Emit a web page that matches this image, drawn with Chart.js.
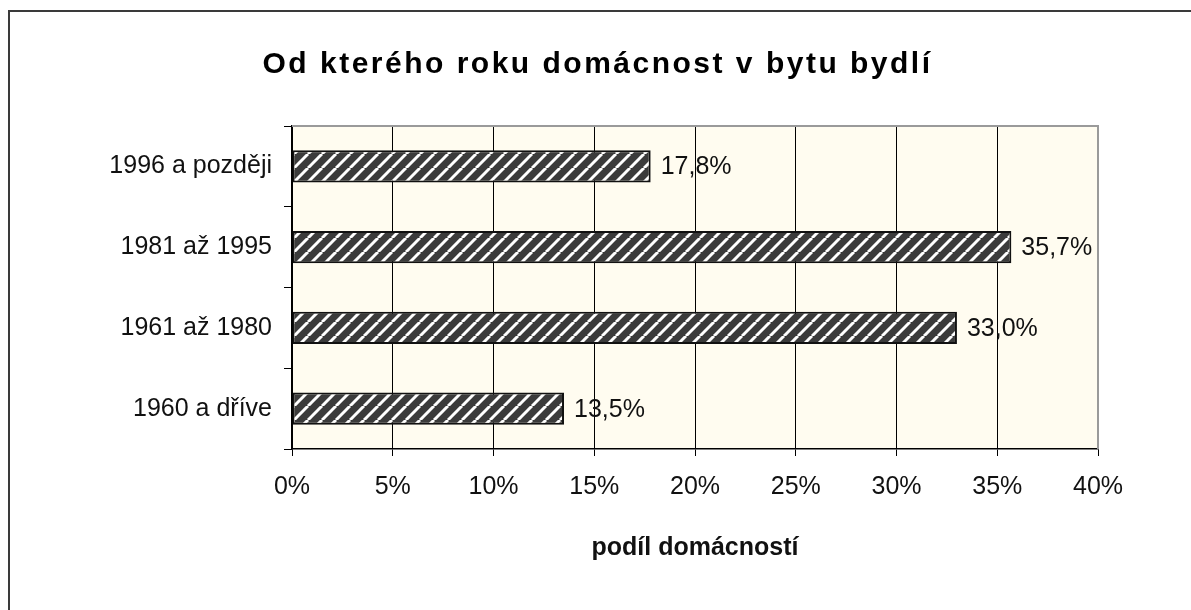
<!DOCTYPE html>
<html>
<head>
<meta charset="utf-8">
<script src="https://cdn.jsdelivr.net/npm/chart.js@4.4.1/dist/chart.umd.min.js"></script>
<style>
  html, body { margin: 0; padding: 0; background: #fff; }
  #wrap { width: 1191px; height: 610px; }
</style>
</head>
<body>
<div id="wrap"><canvas id="bars"></canvas></div>
<script>
var chartTitle = 'Od kterého roku domácnost v bytu bydlí';
var axisTitle = 'podíl domácností';
var categories = ['1996 a později', '1981 až 1995', '1961 až 1980', '1960 a dříve'];
var shares = [17.8, 35.7, 33.0, 13.5];
var tickValues = [0, 5, 10, 15, 20, 25, 30, 35, 40];

// diagonal stripe fill like the old excel pattern
function stripes() {
    var s = 14;
    var c = document.createElement('canvas');
    c.width = s;
    c.height = s;
    var g = c.getContext('2d');
    g.fillStyle = '#3b3b3b';
    g.fillRect(0, 0, s, s);
    g.strokeStyle = '#ffffff';
    g.lineWidth = 3;
    [-s, 0, s].forEach(function (k) {
        g.beginPath();
        g.moveTo(k, s);
        g.lineTo(k + s, 0);
        g.stroke();
    });
    return g.createPattern(c, 'repeat');
}

function pct(v) {
    return v.toFixed(1).replace('.', ',') + '%';
}

var frame = {
    id: 'frame',
    beforeDraw: function (chart) {
        var ctx = chart.ctx, a = chart.chartArea;
        ctx.save();
        ctx.fillStyle = '#ffffff';
        ctx.fillRect(0, 0, chart.width, chart.height);
        ctx.strokeStyle = '#3a3a3a';
        ctx.lineWidth = 2;
        ctx.strokeRect(9, 11, chart.width + 100, chart.height + 100);
        ctx.fillStyle = '#fffcf0';
        ctx.fillRect(a.left, a.top, a.right - a.left, a.bottom - a.top);
        ctx.restore();
    },
    beforeDatasetsDraw: function (chart) {
        var ctx = chart.ctx, a = chart.chartArea;
        ctx.save();
        ctx.strokeStyle = '#9a9a9a';
        ctx.lineWidth = 2;
        ctx.beginPath();
        ctx.moveTo(a.left, a.top);
        ctx.lineTo(a.right, a.top);
        ctx.lineTo(a.right, a.bottom);
        ctx.stroke();
        ctx.restore();
    },
    afterDatasetsDraw: function (chart) {
        var ctx = chart.ctx;
        var meta = chart.getDatasetMeta(0);
        ctx.save();
        ctx.font = '25px "Liberation Sans", Arial, sans-serif';
        ctx.fillStyle = '#111';
        ctx.textAlign = 'left';
        ctx.textBaseline = 'middle';
        meta.data.forEach(function (bar, i) {
            ctx.fillText(pct(shares[i]), bar.x + 10, bar.y + 1);
        });
        ctx.restore();
    },
    afterDraw: function (chart) {
        var ctx = chart.ctx;
        ctx.save();
        ctx.font = 'bold 30px "Liberation Sans", Arial, sans-serif';
        ctx.letterSpacing = '2.5px';
        ctx.fillStyle = '#000';
        ctx.textAlign = 'center';
        ctx.textBaseline = 'middle';
        ctx.fillText(chartTitle, chart.width / 2 + 2, 65);
        ctx.restore();
    }
};

var ctx = document.getElementById('bars').getContext('2d');
var myChart = new Chart(ctx, {
    type: 'bar',
    data: {
        labels: categories,
        datasets: [{
            label: axisTitle,
            data: shares,
            backgroundColor: stripes(),
            borderColor: '#111',
            borderWidth: 2,
            borderSkipped: false,
            categoryPercentage: 1,
            barPercentage: 0.4
        }]
    },
    options: {
        indexAxis: 'y',
        responsive: true,
        maintainAspectRatio: false,
        animation: false,
        layout: {
            padding: { top: 126, right: 93, left: 0, bottom: 0 }
        },
        scales: {
            x: {
                min: 0,
                max: 40,
                afterBuildTicks: function (scale) {
                    scale.ticks = tickValues.map(function (v) { return { value: v }; });
                },
                afterFit: function (scale) { scale.height = 161; },
                grid: {
                    color: '#000',
                    lineWidth: 1,
                    tickLength: 7,
                    tickColor: '#000'
                },
                border: { color: '#000', width: 1.5 },
                ticks: {
                    padding: 16,
                    color: '#111',
                    font: { family: '"Liberation Sans", Arial, sans-serif', size: 25 },
                    callback: function (v) { return v + '%'; }
                },
                title: {
                    display: true,
                    text: axisTitle,
                    color: '#111',
                    font: { family: '"Liberation Sans", Arial, sans-serif', size: 25, weight: 'bold' },
                    padding: { top: 0, bottom: 47 }
                }
            },
            y: {
                afterFit: function (scale) { scale.width = 292; },
                grid: {
                    drawOnChartArea: false,
                    tickLength: 8,
                    tickColor: '#000'
                },
                border: { color: '#000', width: 1.5 },
                ticks: {
                    padding: 12,
                    color: '#111',
                    font: { family: '"Liberation Sans", Arial, sans-serif', size: 25 }
                }
            }
        },
        plugins: {
            legend: { display: false },
            tooltip: { enabled: false }
        }
    },
    plugins: [frame]
});
</script>
</body>
</html>
